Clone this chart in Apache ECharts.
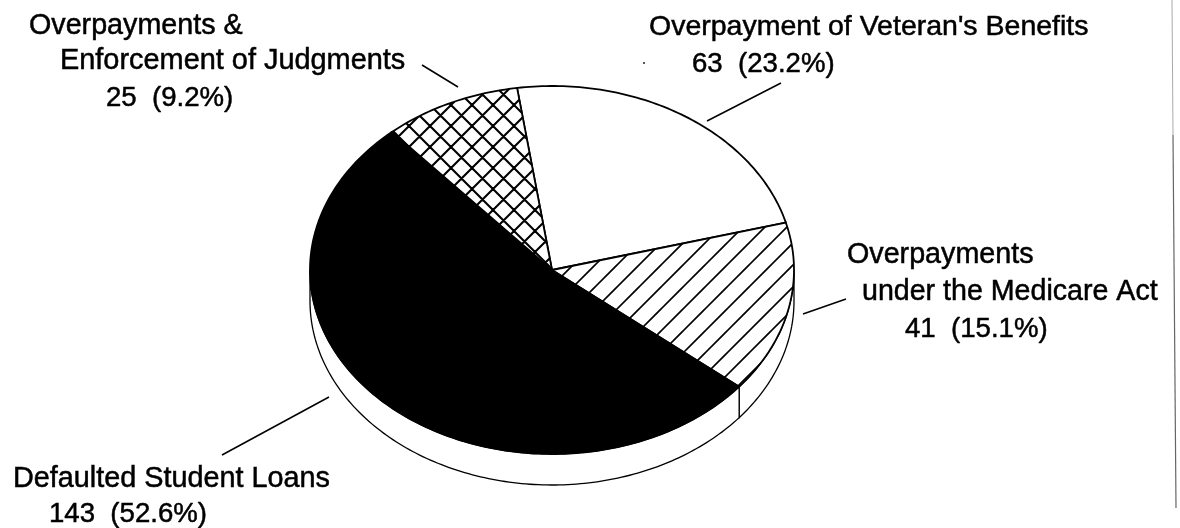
<!DOCTYPE html>
<html>

<head>
    <meta charset="utf-8">
    <title>Overpayments</title>
    <style>
        html, body { margin: 0; padding: 0; background: #fff; }
        #main { width: 1180px; height: 528px; }
    </style>
    <script src="https://cdn.jsdelivr.net/npm/echarts@6/dist/echarts.min.js"></script>
</head>

<body>
    <div id="main"></div>
    <script>
        // slices, clockwise from the top of the pie
        var sliceNames = ["Overpayment of Veteran's Benefits", 'Overpayments under the Medicare Act', 'Defaulted Student Loans', 'Overpayments & Enforcement of Judgments'];
        var sliceValues = [63, 41, 143, 25];
        var slicePercents = ['23.2%', '15.1%', '52.6%', '9.2%'];

        // pie shape, it is squashed so it can't be a plain pie series
        var cx = 552, cy = 270, rx = 242, ry = 184, depth = 31;
        var startDeg = -8.3;
        var total = sliceValues.reduce(function (a, b) { return a + b; }, 0);
        var FONT = '"Liberation Sans", Arial, sans-serif';

        function lineTile(size, lines) {
            var c = document.createElement('canvas');
            c.width = size;
            c.height = size;
            var g = c.getContext('2d');
            g.fillStyle = '#fff';
            g.fillRect(0, 0, size, size);
            g.strokeStyle = '#000';
            g.lineWidth = lines.width;
            g.beginPath();
            for (var k = -2; k <= 2; k++) {
                if (lines.up != null) {
                    // x + y = const
                    var a = lines.up + k * size;
                    g.moveTo(a + size, -size);
                    g.lineTo(a - size * 2, size * 2);
                }
                if (lines.down != null) {
                    // x - y = const
                    var b = lines.down + k * size;
                    g.moveTo(b - size, -size);
                    g.lineTo(b + size * 2, size * 2);
                }
            }
            g.stroke();
            return { image: c, repeat: 'repeat' };
        }

        var sliceFills = [
            '#ffffff',
            lineTile(22, { up: 2, width: 1.6 }),
            '#000000',
            lineTile(21, { up: 10, down: 10, width: 2.1 })
        ];

        function pointAt(deg, dy) {
            var t = deg * Math.PI / 180;
            return [cx + rx * Math.sin(t), cy - ry * Math.cos(t) + (dy || 0)];
        }

        function arcPoints(d0, d1, dy) {
            var pts = [];
            var n = Math.max(2, Math.ceil(Math.abs(d1 - d0)));
            for (var i = 0; i <= n; i++) {
                pts.push(pointAt(d0 + (d1 - d0) * i / n, dy));
            }
            return pts;
        }

        function sliceStart(index) {
            var sum = 0;
            for (var i = 0; i < index; i++) sum += sliceValues[i];
            return startDeg + sum / total * 360;
        }

        function renderSlice(params, api) {
            var i = params.dataIndex;
            var d0 = sliceStart(i);
            var d1 = d0 + api.value(0) / total * 360;
            var children = [];

            // side wall, only the part facing the viewer
            var w0 = Math.max(d0, 90), w1 = Math.min(d1, 270);
            if (w1 > w0) {
                children.push({
                    type: 'polygon',
                    shape: { points: arcPoints(w0, w1, 0).concat(arcPoints(w1, w0, depth)) },
                    style: { fill: '#fff', stroke: '#000', lineWidth: 1.3 }
                });
            }
            children.push({
                type: 'polygon',
                shape: { points: [[cx, cy]].concat(arcPoints(d0, d1, 0)) },
                style: { fill: sliceFills[i], stroke: '#000', lineWidth: 1.8 }
            });
            return { type: 'group', children: children };
        }

        // text blocks: left edge, middle of the line, size
        var labelRows = [
            ['Overpayments &', 29, 26, 28.7],
            ['Enforcement of Judgments', 60, 61, 28.9],
            ['25  (9.2%)', 106, 98, 27.6],
            ["Overpayment of Veteran's Benefits", 649, 27, 28.5],
            ['63  (23.2%)', 692, 64, 27.6],
            ['Overpayments', 847, 255, 28.7],
            ['under the Medicare Act', 862, 292, 28.6],
            ['41  (15.1%)', 905, 329, 27.6],
            ['Defaulted Student Loans', 13, 479, 28.8],
            ['143  (52.6%)', 49, 514, 27.6]
        ];
        // leader lines
        var leaderLines = [
            [422, 65, 458, 87],
            [707, 121, 781, 83],
            [803, 314, 846, 299],
            [222, 455, 329, 397]
        ];

        var extras = [];
        labelRows.forEach(function (r) {
            extras.push({
                type: 'text',
                x: r[1],
                y: r[2],
                style: {
                    text: r[0],
                    fill: '#000',
                    font: r[3] + 'px ' + FONT,
                    textVerticalAlign: 'middle',
                    stroke: '#000',
                    lineWidth: 0.5
                }
            });
        });
        leaderLines.forEach(function (l) {
            extras.push({
                type: 'line',
                shape: { x1: l[0], y1: l[1], x2: l[2], y2: l[3] },
                style: { stroke: '#000', lineWidth: 1.5 }
            });
        });
        // scan speck and page edge, the edge drifts a bit to the right
        extras.push({ type: 'circle', shape: { cx: 644, cy: 63, r: 1 }, style: { fill: '#222' } });
        extras.push({
            type: 'line',
            shape: { x1: 1172, y1: 0, x2: 1173, y2: 135 },
            style: { stroke: '#aaa', lineWidth: 1 }
        });
        extras.push({
            type: 'line',
            shape: { x1: 1173, y1: 135, x2: 1176, y2: 508 },
            style: { stroke: '#666', lineWidth: 1.2 }
        });

        var myChart = echarts.init(document.getElementById('main'), null, { renderer: 'canvas' });
        myChart.setOption({
            animation: false,
            backgroundColor: '#fff',
            series: [{
                type: 'custom',
                coordinateSystem: 'none',
                renderItem: renderSlice,
                data: sliceValues.map(function (v, i) {
                    return { name: sliceNames[i], value: [v], percent: slicePercents[i] };
                })
            }],
            graphic: extras
        });
    </script>
</body>

</html>
